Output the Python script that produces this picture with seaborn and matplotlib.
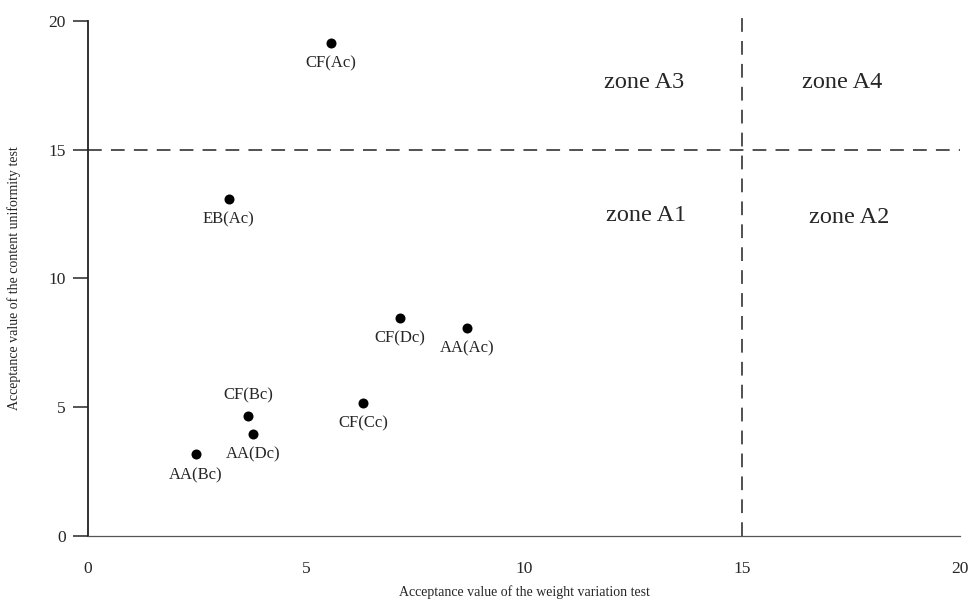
import numpy as np
import pandas as pd
import seaborn as sns
import matplotlib
matplotlib.use("Agg")
import matplotlib.pyplot as plt

# acceptance values
labels = ["CF(Ac)", "EB(Ac)", "CF(Dc)", "AA(Ac)", "CF(Cc)", "CF(Bc)", "AA(Dc)", "AA(Bc)"]
weight_av = [5.57, 3.23, 7.16, 8.69, 6.31, 3.67, 3.78, 2.48]
content_av = [19.15, 13.09, 8.47, 8.08, 5.17, 4.66, 3.96, 3.18]
label_side = ["below", "below", "below", "below", "below", "above", "below", "below"]

zone_names = ["zone A3", "zone A4", "zone A1", "zone A2"]
zone_x = [12.75, 17.3, 12.8, 17.45]
zone_y = [17.6, 17.6, 12.45, 12.35]

limit = 15
ticks = [0, 5, 10, 15, 20]

df = pd.DataFrame({"label": labels, "weight": weight_av, "content": content_av})

sns.set_theme(style="ticks")
plt.rcParams["font.family"] = ["Liberation Serif", "DejaVu Serif"]

fig = plt.figure(figsize=(9.7, 6.11), dpi=100)
ax = fig.add_axes([88 / 970, 75 / 611, 872 / 970, 515 / 611])

sns.scatterplot(data=df, x="weight", y="content", color="black", s=52,
                edgecolor="black", linewidth=0, ax=ax, zorder=3)

# acceptance limit lines
ax.axhline(limit, color="#222222", lw=1.1, ls=(0, (9, 6)), zorder=1)
ax.axvline(limit, color="#222222", lw=1.1, ls=(0, (9, 6)), zorder=1,
           ymin=0, ymax=1.02, clip_on=False)

for lab, xv, yv, side in zip(labels, weight_av, content_av, label_side):
    dy = 15 if side == "above" else -15
    ax.annotate(lab, (xv, yv), xytext=(0, dy), textcoords="offset points",
                ha="center", va="center", fontsize=12)

for name, zx, zy in zip(zone_names, zone_x, zone_y):
    ax.text(zx, zy, name, ha="center", va="center", fontsize=17.5)

ax.set_xlim(0, 20)
ax.set_ylim(0, 20)
ax.set_xticks(ticks)
ax.set_yticks(ticks)
ax.tick_params(axis="x", length=0, pad=18, labelsize=12.5)
ax.tick_params(axis="y", length=11, width=1.1, pad=5, labelsize=12.5)

ax.spines["top"].set_visible(False)
ax.spines["right"].set_visible(False)
ax.spines["left"].set_linewidth(1.3)
ax.spines["left"].set_color("#222222")
ax.spines["bottom"].set_linewidth(0.9)
ax.spines["bottom"].set_color("#555555")

ax.set_xlabel("Acceptance value of the weight variation test", fontsize=10, labelpad=6)
ax.set_ylabel("Acceptance value of the content uniformity test", fontsize=10, labelpad=20)

fig.savefig("out.png", dpi=100)
